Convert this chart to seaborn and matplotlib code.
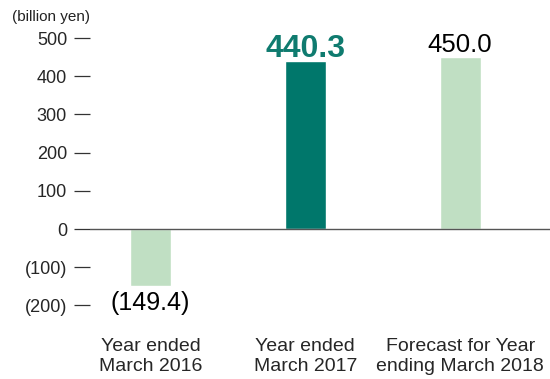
import matplotlib
matplotlib.use("Agg")
import matplotlib.pyplot as plt
import seaborn as sns
import pandas as pd

categories = ["Year ended\nMarch 2016", "Year ended\nMarch 2017", "Forecast for Year\nending March 2018"]
values = [-149.4, 440.3, 450.0]
value_labels = ["(149.4)", "440.3", "450.0"]
bar_colors = ["#C0DFC3", "#00776B", "#C0DFC3"]
ytick_vals = [500, 400, 300, 200, 100, 0, -100, -200]
ytick_labels = ["500", "400", "300", "200", "100", "0", "(100)", "(200)"]

sns.set_theme(style="white")
plt.rcParams["font.family"] = ["Liberation Sans", "DejaVu Sans"]

df = pd.DataFrame({"cat": categories, "val": values})

fig = plt.figure(figsize=(5.5, 3.79), dpi=100)
ax = fig.add_axes([90/550, 1 - 320/379, 460/550, 290/379])

sns.barplot(data=df, x="cat", y="val", hue="cat", palette=bar_colors,
            width=0.265, legend=False, ax=ax, saturation=1)

ax.set_xlim(-0.39, 2.58)
ax.set_ylim(-238, 521)
for s in ax.spines.values():
    s.set_visible(False)

ax.axhline(0, color="#555555", lw=1.0, zorder=3)

ax.set_yticks(ytick_vals)
ax.set_yticklabels(ytick_labels, fontsize=13)
ax.tick_params(axis="y", direction="out", length=11.5, width=0.9, color="#333333", pad=5, left=True)
ax.tick_params(axis="x", length=0, pad=13, labelsize=14)
ax.set_xlabel("")
ax.set_ylabel("")
for lab in ax.get_xticklabels():
    lab.set_linespacing(1.22)

# value labels
ax.text(0, values[0] - 63, value_labels[0], ha="center", va="baseline", fontsize=18, color="black")
ax.text(1, values[1] + 9, value_labels[1], ha="center", va="baseline", fontsize=23, fontweight="bold", color="#0F7B6F")
ax.text(2, values[2] + 13, value_labels[2], ha="center", va="baseline", fontsize=18.5, color="black")

fig.text(12/550, 1 - 17/379, "(billion yen)", ha="left", va="center", fontsize=11, color="#222222")

fig.savefig("out.png", dpi=100)
